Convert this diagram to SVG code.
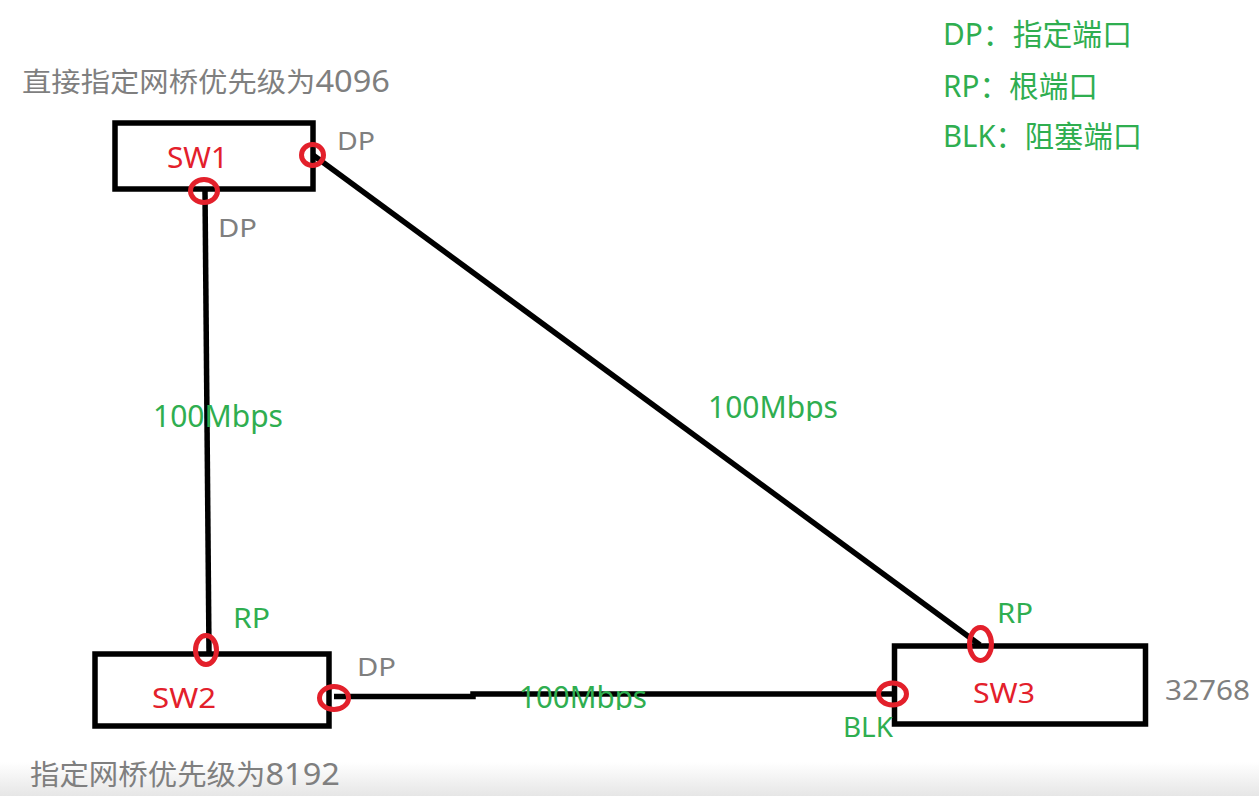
<svg xmlns="http://www.w3.org/2000/svg" width="1259" height="796" viewBox="0 0 1259 796">
<style>
.box{fill:none;stroke:#000;stroke-width:5.5}
.wire{fill:none;stroke:#000;stroke-width:5.5;stroke-linecap:butt;stroke-linejoin:miter}
.port{fill:none;stroke:#e3202b;stroke-width:5}
text{font-family:"Noto Sans","Noto Sans CJK SC",sans-serif}
.gray{fill:#7f7f7f}
.green{fill:#2fae50}
.red{fill:#e3202b}
</style>
<defs>
<clipPath id="clipDiag"><rect x="690" y="380" width="180" height="41"/></clipPath>
<clipPath id="clipHor"><rect x="500" y="670" width="180" height="40"/></clipPath>
<linearGradient id="bottomShade" x1="0" y1="0" x2="0" y2="1">
<stop offset="0" stop-color="#ffffff"/>
<stop offset="1" stop-color="#e6e6e6"/>
</linearGradient>
</defs>
<rect width="1259" height="796" fill="#fff"/>
<rect x="0" y="762" width="1259" height="34" fill="url(#bottomShade)"/>

<g id="connectors">
<path class="wire" d="M205,191 L209,652"/>
<path class="wire" d="M313,155 L980,645"/>
<path class="wire" d="M334,696.5 L473,696.5 L473,694 L893,694"/>
</g>

<g id="link-labels">
<text class="green" x="153" y="427" font-size="30" textLength="130" lengthAdjust="spacingAndGlyphs">100Mbps</text>
<text class="green" x="708" y="418" font-size="30" textLength="130" lengthAdjust="spacingAndGlyphs" clip-path="url(#clipDiag)">100Mbps</text>
<text class="green" x="519" y="708" font-size="30" textLength="128" lengthAdjust="spacingAndGlyphs" clip-path="url(#clipHor)">100Mbps</text>
</g>

<g id="sw1">
<rect class="box" x="115" y="123" width="198" height="66"/>
<text class="red" x="167" y="168" font-size="29" textLength="61" lengthAdjust="spacingAndGlyphs">SW1</text>
<ellipse class="port" cx="312.5" cy="155" rx="11" ry="10.5"/>
<ellipse class="port" cx="204" cy="191" rx="13.5" ry="11.5"/>
<text class="gray" x="337" y="150" font-size="25" textLength="38" lengthAdjust="spacingAndGlyphs">DP</text>
<text class="gray" x="218" y="237" font-size="25" textLength="39" lengthAdjust="spacingAndGlyphs">DP</text>
<text class="gray" x="22" y="92" font-size="27" textLength="368" lengthAdjust="spacingAndGlyphs">直接指定网桥优先级为<tspan font-size="30">4096</tspan></text>
</g>

<g id="sw2">
<rect class="box" x="95" y="654" width="234" height="72"/>
<text class="red" x="152" y="708" font-size="27" textLength="64" lengthAdjust="spacingAndGlyphs">SW2</text>
<ellipse class="port" cx="206" cy="650" rx="10.5" ry="14.5"/>
<ellipse class="port" cx="334" cy="698" rx="14.5" ry="11.5"/>
<text class="green" x="233" y="628" font-size="28" textLength="37" lengthAdjust="spacingAndGlyphs">RP</text>
<text class="gray" x="357" y="676" font-size="26" textLength="39" lengthAdjust="spacingAndGlyphs">DP</text>
<text class="gray" x="30" y="785" font-size="28" textLength="310" lengthAdjust="spacingAndGlyphs">指定网桥优先级为<tspan font-size="31">8192</tspan></text>
</g>

<g id="sw3">
<rect class="box" x="894.5" y="646" width="251" height="78"/>
<text class="red" x="973" y="703" font-size="28" textLength="62" lengthAdjust="spacingAndGlyphs">SW3</text>
<ellipse class="port" cx="980.5" cy="644" rx="11" ry="16.5"/>
<ellipse class="port" cx="892.5" cy="694" rx="14" ry="11"/>
<text class="green" x="997" y="623" font-size="28" textLength="36" lengthAdjust="spacingAndGlyphs">RP</text>
<text class="green" x="843" y="737" font-size="28" textLength="50" lengthAdjust="spacingAndGlyphs">BLK</text>
<text class="gray" x="1165" y="700" font-size="28" textLength="85" lengthAdjust="spacingAndGlyphs">32768</text>
</g>

<g id="legend">
<text class="green" x="943" y="45" font-size="30" textLength="189" lengthAdjust="spacingAndGlyphs">DP：指定端口</text>
<text class="green" x="943" y="97" font-size="30" textLength="155" lengthAdjust="spacingAndGlyphs">RP：根端口</text>
<text class="green" x="943" y="147" font-size="30" textLength="199" lengthAdjust="spacingAndGlyphs">BLK：阻塞端口</text>
</g>
</svg>
